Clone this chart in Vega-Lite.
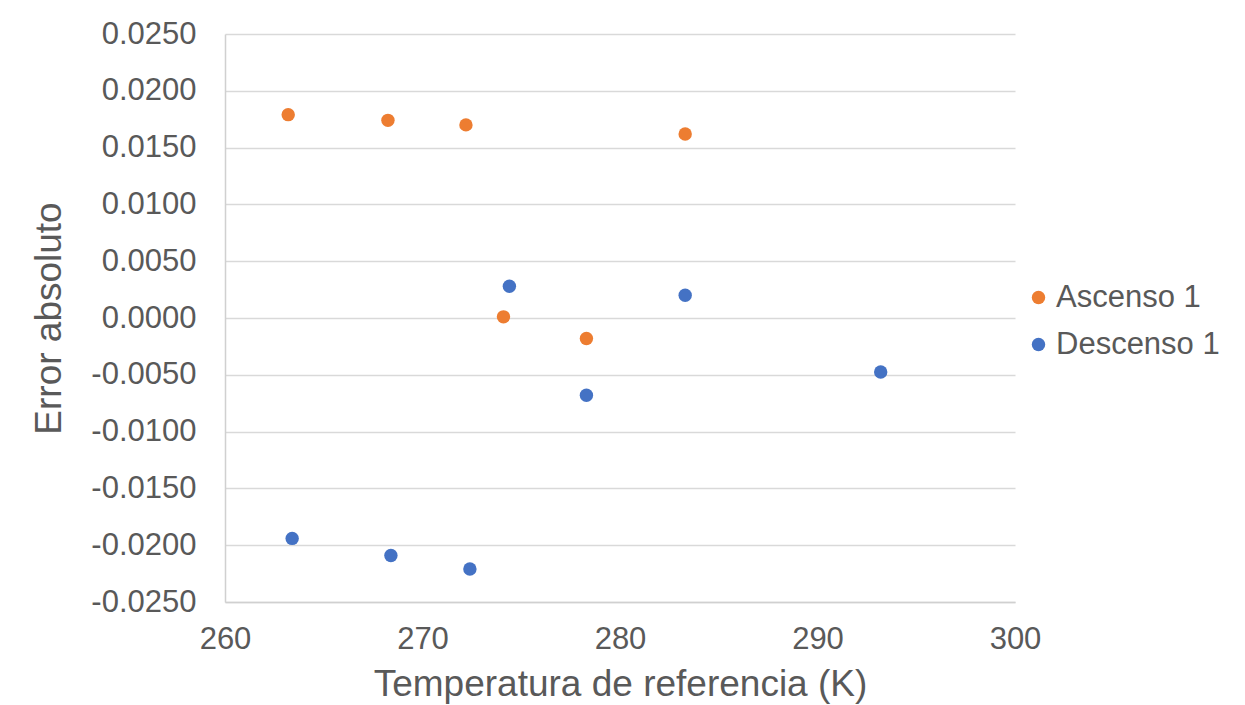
{
  "$schema": "https://vega.github.io/schema/vega-lite/v6.json",
  "autosize": "none",
  "width": 790,
  "height": 568,
  "padding": {"left": 225, "top": 34, "right": 230, "bottom": 103},
  "background": "white",
  "config": {
    "font": "Liberation Sans",
    "view": {"stroke": null}
  },
  "data": {
    "values": [
      {"serie": "Ascenso 1", "temp": 263.2, "error": 0.0179},
      {"serie": "Ascenso 1", "temp": 268.25, "error": 0.0174},
      {"serie": "Ascenso 1", "temp": 272.2, "error": 0.0170},
      {"serie": "Ascenso 1", "temp": 274.1, "error": 0.0001},
      {"serie": "Ascenso 1", "temp": 278.3, "error": -0.0018},
      {"serie": "Ascenso 1", "temp": 283.3, "error": 0.0162},
      {"serie": "Descenso 1", "temp": 263.4, "error": -0.0194},
      {"serie": "Descenso 1", "temp": 268.4, "error": -0.0209},
      {"serie": "Descenso 1", "temp": 272.4, "error": -0.0221},
      {"serie": "Descenso 1", "temp": 274.4, "error": 0.0028},
      {"serie": "Descenso 1", "temp": 278.3, "error": -0.0068},
      {"serie": "Descenso 1", "temp": 283.3, "error": 0.0020},
      {"serie": "Descenso 1", "temp": 293.2, "error": -0.00475}
    ]
  },
  "mark": {"type": "circle", "size": 180, "opacity": 1},
  "encoding": {
    "x": {
      "field": "temp", "type": "quantitative",
      "scale": {"domain": [260, 300], "nice": false, "zero": false},
      "axis": {
        "title": "Temperatura de referencia (K)",
        "values": [260, 270, 280, 290, 300],
        "grid": false, "ticks": false, "labelFlush": false,
        "domainColor": "#D0D0D0", "domainWidth": 1.5,
        "labelFontSize": 31, "labelColor": "#595959", "labelPadding": 22,
        "titleFontSize": 37, "titleFontWeight": "normal", "titleColor": "#595959", "titlePadding": 12
      }
    },
    "y": {
      "field": "error", "type": "quantitative",
      "scale": {"domain": [-0.025, 0.025], "nice": false, "zero": false},
      "axis": {
        "title": "Error absoluto",
        "values": [-0.025, -0.02, -0.015, -0.01, -0.005, 0, 0.005, 0.01, 0.015, 0.02, 0.025],
        "labelExpr": "replace(format(datum.value, '.4f'), '\u2212', '-')",
        "grid": true, "gridColor": "#D9D9D9", "gridWidth": 1.5,
        "ticks": false,
        "domainColor": "#D0D0D0", "domainWidth": 1.5,
        "labelFontSize": 31, "labelColor": "#595959", "labelPadding": 29,
        "titleFontSize": 37, "titleFontWeight": "normal", "titleColor": "#595959", "titlePadding": 22
      }
    },
    "color": {
      "field": "serie", "type": "nominal",
      "scale": {"domain": ["Ascenso 1", "Descenso 1"], "range": ["#ED7D31", "#4472C4"]},
      "legend": {
        "title": null,
        "orient": "none", "legendX": 798, "legendY": 248,
        "symbolType": "circle", "symbolSize": 180,
        "labelFontSize": 31, "labelColor": "#595959", "labelLimit": 400,
        "rowPadding": 15, "labelOffset": 2
      }
    }
  }
}
